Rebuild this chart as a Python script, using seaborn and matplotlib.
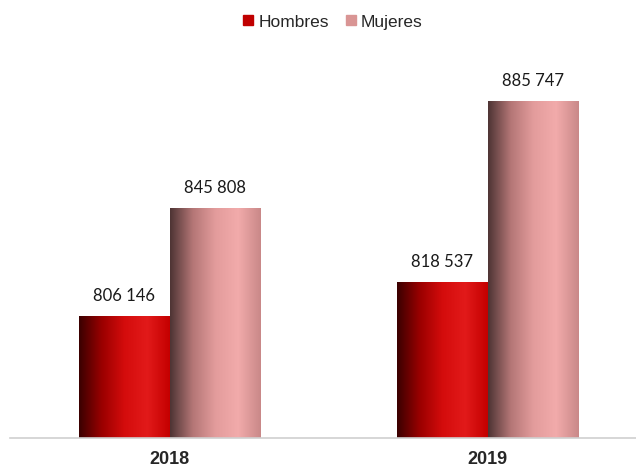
import numpy as np
import pandas as pd
import matplotlib.pyplot as plt
import seaborn as sns
from matplotlib.colors import LinearSegmentedColormap

years = ['2018', '2019']
hombres = [806146, 818537]
mujeres = [845808, 885747]
series = ['Hombres', 'Mujeres']
legend_colors = ['#c00000', '#d99594']

df = pd.DataFrame({
    'year': years * 2,
    'value': hombres + mujeres,
    'sexo': [series[0]] * 2 + [series[1]] * 2,
})

# horizontal "cylinder" shading for each series
cmaps = [
    LinearSegmentedColormap.from_list('h', ['#3a0000', '#9a0000', '#d40c0c', '#e21a1a', '#c40000']),
    LinearSegmentedColormap.from_list('m', ['#4e3434', '#b47676', '#e39c9c', '#f2abab', '#c98888']),
]
ymin, ymax = 761000, 908000

sns.set_style('white')
plt.rcParams['font.family'] = ['Liberation Sans', 'DejaVu Sans']

fig = plt.figure(figsize=(6.36, 4.70), dpi=100)
ax = fig.add_axes([10 / 636, 32 / 470, 626 / 636, 397 / 470])

sns.barplot(data=df, x='year', y='value', hue='sexo', hue_order=series,
            palette=legend_colors, width=0.572, ax=ax, legend=False)

grad = np.linspace(0, 1, 256).reshape(1, -1)
for cont, cmap in zip(ax.containers, cmaps):
    for bar in cont:
        x, w, h = bar.get_x(), bar.get_width(), bar.get_height()
        bar.set_facecolor('none')
        bar.set_edgecolor('none')
        ax.imshow(grad, cmap=cmap, aspect='auto', extent=(x, x + w, ymin, h),
                  zorder=2)
        ax.annotate(f'{int(h):,}'.replace(',', ' '), (x + w / 2, h),
                    xytext=(0, 9), textcoords='offset points',
                    ha='center', va='bottom', fontsize=12, family='Lato',
                    color='#1a1a1a')

ax.set_xlim(-0.503, 1.466)
ax.set_ylim(ymin, ymax)
ax.set_yticks([])
ax.set_xlabel('')
ax.set_ylabel('')
ax.tick_params(axis='x', length=0, pad=9)
for lab in ax.get_xticklabels():
    lab.set_fontweight('bold')
    lab.set_fontsize(13)
for side in ['top', 'right', 'left']:
    ax.spines[side].set_visible(False)
ax.spines['bottom'].set_color('#d0d0d0')
ax.spines['bottom'].set_linewidth(1.2)
ax.spines['bottom'].set_zorder(3)

handles = [plt.Line2D([], [], marker='s', linestyle='', markersize=7,
                      color=c) for c in legend_colors]
fig.legend(handles, series, loc='center', bbox_to_anchor=(331 / 636, 1 - 22 / 470),
           ncol=2, frameon=False, fontsize=12.5, handletextpad=0.1,
           columnspacing=0.75, handlelength=1.0)

fig.savefig('out.png', dpi=100)
